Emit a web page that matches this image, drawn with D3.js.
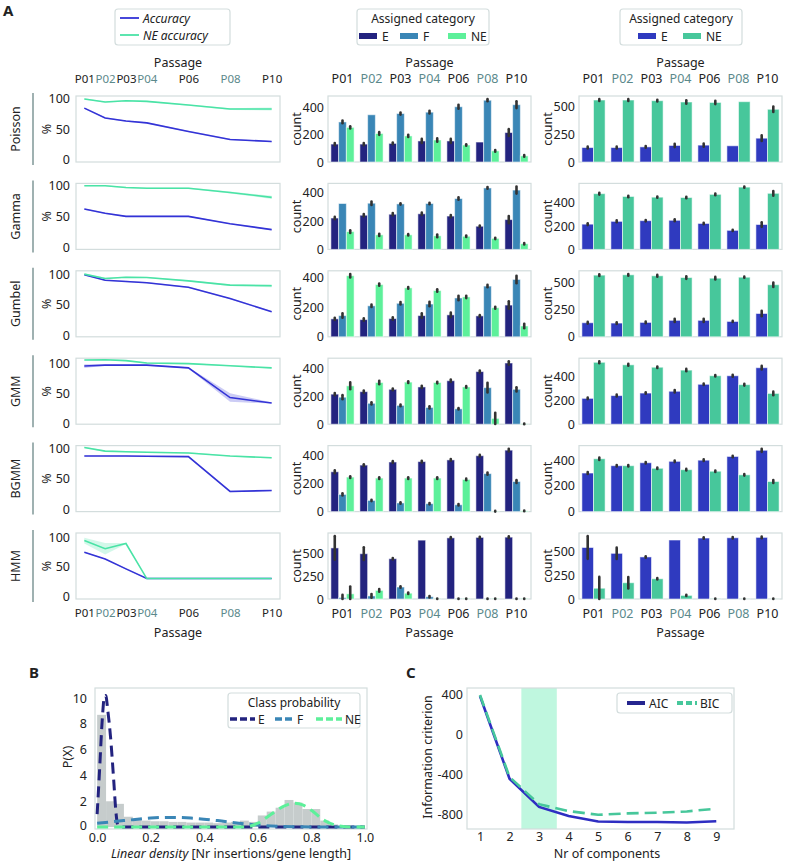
<!DOCTYPE html>
<html><head><meta charset="utf-8">
<script src="https://cdn.jsdelivr.net/npm/d3@7"></script>
<style>body{margin:0;background:#fff} svg text{font-family:"Noto Sans",sans-serif;fill:#222}</style>
</head><body><svg id="c" width="786" height="865"></svg>
<script>
// ---------------- DATA ----------------
const models = ["Poisson","Gamma","Gumbel","GMM","BGMM","HMM"];
const passages = ["P01","P02","P03","P04","P06","P08","P10"];
const passageNum = [1,2,3,4,6,8,10];
const altPassages = ["P02","P04","P08"];

const accuracy = [
 [84,68,63,60,46,33,29.5],
 [62,55,50,50,50,38,28.5],
 [99,90,88,86,78.5,60,38.5],
 [95,96.5,96.5,96.5,92,43,34],
 [87,87,87,86.5,86,29,30.5],
 [75,63.5,46.6,30,30,30,30]];
const accuracyErr = [
 [1,1,1,1,1,1,1],
 [1,1,1,1,1,1,1],
 [1,1,1,1,1,1,1],
 [3,1,1,1,1,7,1],
 [1,1,1,1,1,1.5,1],
 [1,1,1,0.5,0.5,0.5,0.5]];
const neAccuracy = [
 [99,94,96,95,89,82.5,82.5],
 [100,100,97,96,96,89,81],
 [100,93,95,94.5,89,82,81],
 [105,105.5,104,100,99,95.5,92],
 [101,95,94,93,92,87,84],
 [95,81,90,30,30,30,30]];
const neAccuracyErr = [
 [1,1,1,1,1,1.5,2.5],
 [1,1,1,1,1,1.5,2.5],
 [1,1,1,1,1,1.5,2.5],
 [1,1,1,1,1,1,1],
 [1,1,1,1,1,1,1],
 [5,10,1,0.5,0.5,0.5,0.5]];
const leftDomains = [[-3.8,103.8],[-3.8,103.8],[-2.7,105.5],[-1,108],[-4,104],[-5,108]];

const midE = [
 [132,132,137,155,155,147,217],
 [222,242,249,252,236,164,211],
 [121,116,123,143,148,141,214],
 [217,235,252,269,314,380,442],
 [285,333,355,358,370,400,440],
 [564,500,445,650,675,680,683]];
const midF = [
 [295,348,357,367,407,455,422],
 [325,327,322,325,360,435,420],
 [143,209,226,221,262,342,387],
 [195,151,136,121,111,264,252],
 [123,80,62,57,49,272,215],
 [15,34,132,25,3,2,2]];
const midNE = [
 [255,210,192,162,125,82,45],
 [126,103,103,96,93,78,40],
 [412,352,330,312,269,196,73],
 [277,301,304,301,269,42,2],
 [247,240,240,240,230,2,5],
 [57,95,64,3,3,3,3]];
const midEErr = [
 [8,8,6,15,15,0,25],
 [8,8,8,8,8,5,25],
 [8,8,8,15,15,5,25],
 [8,8,6,8,8,8,12],
 [10,6,6,6,6,6,10],
 [130,70,8,0,8,8,8]];
const midFErr = [
 [10,0,8,10,15,8,25],
 [0,12,5,5,8,6,25],
 [15,8,8,15,15,8,25],
 [15,8,6,8,5,35,15],
 [8,5,5,5,5,8,10],
 [30,20,8,8,3,3,3]];
const midNEErr = [
 [8,10,8,12,5,6,6],
 [10,8,5,10,5,5,5],
 [12,8,6,8,8,6,15],
 [25,12,6,6,6,40,3],
 [6,6,6,6,6,3,3],
 [80,15,8,3,3,3,3]];
const midTicks = [[0,200,400],[0,200,400],[0,200,400],[0,200,400],[0,200,400],[0,250,500]];

const rightE = [
 [131,131,137,150,153,147,216],
 [216,240,246,249,222,163,213],
 [129,126,132,151,151,141,214],
 [215,238,259,274,332,403,470],
 [300,357,380,391,400,429,477],
 [545,483,445,624,645,648,652]];
const rightNE = [
 [562,562,556,544,540,547,478],
 [477,453,447,444,471,533,480],
 [566,569,560,544,538,547,478],
 [515,494,474,450,403,329,256],
 [411,357,337,326,314,286,234],
 [114,172,214,38,2,1,1]];
const rightEErr = [
 [8,8,8,15,15,0,25],
 [8,8,6,8,6,5,20],
 [8,8,8,15,15,5,25],
 [6,8,6,10,6,8,15],
 [8,6,6,6,6,6,12],
 [120,60,8,0,8,8,8]];
const rightNEErr = [
 [8,8,8,15,15,0,25],
 [8,6,5,6,8,5,20],
 [8,8,8,12,12,5,20],
 [8,8,6,10,6,8,15],
 [10,6,6,6,6,6,12],
 [120,60,8,6,3,3,3]];
const rightTicks = [[0,250,500],[0,200,400],[0,250,500],[0,200,400],[0,200,400],[0,250,500]];

// Panel B
const histBinWidth = 1/30;
const histHeights = [8.7,2.0,1.8,0.8,0.55,0.5,0.45,0.45,0.4,0.4,0.35,0.35,0.35,0.3,0.35,0.4,0.5,0.4,0.9,1.2,1.5,2.1,1.9,1.4,1.4,0.5,0.2,0,0,0];
const curveE = [[0,1.0],[0.009,4.4],[0.019,8.3],[0.027,10.1],[0.032,10.2],[0.04,9.0],[0.05,7.0],[0.062,3.6],[0.07,1.2],[0.078,0.1],[0.1,0],[1.0,0]];
const curveF = [[0,0.3],[0.1,0.5],[0.2,0.7],[0.27,0.75],[0.35,0.7],[0.45,0.5],[0.55,0.25],[0.65,0.08],[0.75,0.02],[0.85,0],[1.0,0]];
const curveNE = [[0,0],[0.55,0],[0.6,0.3],[0.65,1.0],[0.7,1.65],[0.735,1.85],[0.77,1.7],[0.8,1.3],[0.85,0.5],[0.9,0.1],[0.95,0],[1.0,0]];
const classes = ["E","F","NE"];
const xTicksB = [0,0.2,0.4,0.6,0.8,1.0];
const yTicksB = [0,2,4,6,8,10];

// Panel C
const components = [1,2,3,4,5,6,7,8,9];
const aic = [390,-444,-728,-820,-875,-879,-879,-885,-872];
const bic = [400,-427,-700,-770,-807,-793,-786,-773,-745];
const yTicksC = [400,0,-400,-800];

// ---------------- STYLE ----------------
const svg = d3.select("#c");
const FS = 12.5;
const DARK = "#222";
const ALT = "#5b898b";
const FRAME = "#d3dddd";
const cAcc = "#3333d6", cNE = "#4ae3a6";
const cE = "#23237f", cF = "#3a86b6", cNEb = "#5df09a";
const cE2 = "#2f3abf", cNE2 = "#47c79b";
const RH = 66;
const rowTop = i => 96 + i*87.4;
const COLL = [76,280], COLM = [328,531], COLR = [579,782];

function cleanAxis(g, pass, size){
  g.select(".domain").remove();
  g.selectAll("text").attr("font-size",size||FS).style("fill", d => pass && altPassages.includes(pass(d)) ? ALT : DARK);
}
function rotLabel(x, y, txt, size){
  svg.append("text").attr("transform",`translate(${x},${y}) rotate(-90)`)
    .attr("text-anchor","middle").attr("dominant-baseline","central")
    .attr("font-size",size||FS).text(txt);
}
function frame(x0,y0,x1,y1){
  svg.append("rect").attr("x",x0).attr("y",y0).attr("width",x1-x0).attr("height",y1-y0)
    .attr("fill","none").attr("stroke",FRAME).attr("stroke-width",1.2);
}

// Panel letters
svg.append("text").attr("x",3).attr("y",16).attr("font-size",15).attr("font-weight","bold").text("A");
svg.append("text").attr("x",29).attr("y",678).attr("font-size",15).attr("font-weight","bold").text("B");
svg.append("text").attr("x",406).attr("y",678).attr("font-size",15).attr("font-weight","bold").text("C");

// ---------------- LEFT COLUMN ----------------
const xL = d3.scaleLinear().domain([0.6,10.4]).range(COLL);
models.forEach((m,i) => {
  const top = rowTop(i), bot = top+RH;
  const y = d3.scaleLinear().domain(leftDomains[i]).range([bot,top]);
  frame(COLL[0],top,COLL[1],bot);
  const series = [
    {v:accuracy[i], e:accuracyErr[i], c:cAcc},
    {v:neAccuracy[i], e:neAccuracyErr[i], c:cNE}];
  series.forEach(s => {
    const pts = passageNum.map((p,j)=>({p, v:s.v[j], e:s.e[j]}));
    svg.append("path").datum(pts).attr("fill",s.c).attr("fill-opacity",0.25)
      .attr("d", d3.area().x(d=>xL(d.p)).y0(d=>y(d.v-d.e)).y1(d=>y(d.v+d.e)));
  });
  series.forEach(s => {
    const pts = passageNum.map((p,j)=>({p, v:s.v[j]}));
    svg.append("path").datum(pts).attr("fill","none").attr("stroke",s.c).attr("stroke-width",1.6)
      .attr("d", d3.line().x(d=>xL(d.p)).y(d=>y(d.v)));
  });
  const ay = svg.append("g").attr("transform",`translate(${COLL[0]},0)`)
    .call(d3.axisLeft(y).tickValues([0,50,100]).tickSize(0).tickPadding(6));
  cleanAxis(ay);
  rotLabel(46,(top+bot)/2,"%");
  rotLabel(15,(top+bot)/2,m);
  svg.append("line").attr("x1",33).attr("x2",33).attr("y1",top-3).attr("y2",bot+3)
    .attr("stroke","#9fb1b1").attr("stroke-width",2);
  const fmtL = d => passages[passageNum.indexOf(d)];
  if(i===0){
    const ax = svg.append("g").attr("transform",`translate(0,${top})`)
      .call(d3.axisTop(xL).tickValues(passageNum).tickFormat(fmtL).tickSize(0).tickPadding(13));
    cleanAxis(ax, fmtL, 11.5);
    svg.append("text").attr("x",(COLL[0]+COLL[1])/2).attr("y",67).attr("text-anchor","middle").attr("font-size",FS).text("Passage");
  }
  if(i===models.length-1){
    const ax = svg.append("g").attr("transform",`translate(0,${bot})`)
      .call(d3.axisBottom(xL).tickValues(passageNum).tickFormat(fmtL).tickSize(0).tickPadding(10));
    cleanAxis(ax, fmtL, 11.5);
    svg.append("text").attr("x",(COLL[0]+COLL[1])/2).attr("y",637).attr("text-anchor","middle").attr("font-size",FS).text("Passage");
  }
});

// ---------------- BAR COLUMNS ----------------
function barPanel(i, range, names, vals, errs, colors, ticks, labelX){
  const top = rowTop(i), bot = top+RH;
  const x = d3.scaleBand().domain(passages).range(range).paddingInner(0.2).paddingOuter(0.1);
  const xs = d3.scaleBand().domain(names).range([0,x.bandwidth()]);
  const maxV = d3.max(names.flatMap((s,k)=>vals[k].map((v,j)=>v+errs[k][j])));
  const y = d3.scaleLinear().domain([0,maxV*1.05]).range([bot,top]);
  frame(range[0],top,range[1],bot);
  names.forEach((s,k) => {
    const data = passages.map((p,j)=>({p, v:vals[k][j], e:errs[k][j]}));
    svg.append("g").selectAll("rect").data(data).join("rect")
      .attr("x",d=>x(d.p)+xs(s)).attr("width",xs.bandwidth())
      .attr("y",d=>y(d.v)).attr("height",d=>y(0)-y(d.v))
      .attr("fill",colors[k]).attr("stroke","#ffffff").attr("stroke-opacity",0.55).attr("stroke-width",1);
    svg.append("g").selectAll("line").data(data.filter(d=>d.e>0)).join("line")
      .attr("x1",d=>x(d.p)+xs(s)+xs.bandwidth()/2).attr("x2",d=>x(d.p)+xs(s)+xs.bandwidth()/2)
      .attr("y1",d=>y(Math.max(0,d.v-d.e))).attr("y2",d=>y(d.v+d.e))
      .attr("stroke","#333").attr("stroke-width",2.6).attr("stroke-linecap","round");
  });
  const ay = svg.append("g").attr("transform",`translate(${range[0]},0)`)
    .call(d3.axisLeft(y).tickValues(ticks).tickSize(0).tickPadding(4));
  cleanAxis(ay);
  rotLabel(labelX,(top+bot)/2,"count");
  const idf = d=>d;
  if(i===0){
    const ax = svg.append("g").attr("transform",`translate(0,${top})`)
      .call(d3.axisTop(x).tickSize(0).tickPadding(13));
    cleanAxis(ax, idf);
    svg.append("text").attr("x",(range[0]+range[1])/2).attr("y",67).attr("text-anchor","middle").attr("font-size",FS).text("Passage");
  }
  if(i===models.length-1){
    const ax = svg.append("g").attr("transform",`translate(0,${bot})`)
      .call(d3.axisBottom(x).tickSize(0).tickPadding(10));
    cleanAxis(ax, idf);
    svg.append("text").attr("x",(range[0]+range[1])/2).attr("y",637).attr("text-anchor","middle").attr("font-size",FS).text("Passage");
  }
}
models.forEach((m,i) => {
  barPanel(i, COLM, ["E","F","NE"], [midE[i],midF[i],midNE[i]], [midEErr[i],midFErr[i],midNEErr[i]], [cE,cF,cNEb], midTicks[i], 296);
  barPanel(i, COLR, ["E","NE"], [rightE[i],rightNE[i]], [rightEErr[i],rightNEErr[i]], [cE2,cNE2], rightTicks[i], 547);
});

// ---------------- LEGENDS (top) ----------------
const LFS = 12;
function legBox(x0,y0,x1,y1){
  svg.append("rect").attr("x",x0).attr("y",y0).attr("width",x1-x0).attr("height",y1-y0)
    .attr("rx",3).attr("fill","#fff").attr("stroke",FRAME).attr("stroke-width",1.2);
}
legBox(115,9,230,45);
[["Accuracy",cAcc,18],["NE accuracy",cNE,35]].forEach(([t,c,yy])=>{
  svg.append("line").attr("x1",120).attr("x2",139).attr("y1",yy).attr("y2",yy).attr("stroke",c).attr("stroke-width",1.8);
  svg.append("text").attr("x",143).attr("y",yy).attr("dominant-baseline","central").attr("font-size",LFS).attr("font-style","italic").text(t);
});
legBox(357,9,489,45);
svg.append("text").attr("x",423).attr("y",18.5).attr("text-anchor","middle").attr("dominant-baseline","central").attr("font-size",LFS).text("Assigned category");
[["E",cE,359],["F",cF,400],["NE",cNEb,448]].forEach(([t,c,xx])=>{
  svg.append("rect").attr("x",xx).attr("y",33).attr("width",18).attr("height",6).attr("fill",c);
  svg.append("text").attr("x",xx+23).attr("y",36).attr("dominant-baseline","central").attr("font-size",LFS).text(t);
});
legBox(620,9,742,45);
svg.append("text").attr("x",681).attr("y",18.5).attr("text-anchor","middle").attr("dominant-baseline","central").attr("font-size",LFS).text("Assigned category");
[["E",cE2,638],["NE",cNE2,683]].forEach(([t,c,xx])=>{
  svg.append("rect").attr("x",xx).attr("y",33).attr("width",18).attr("height",6).attr("fill",c);
  svg.append("text").attr("x",xx+23).attr("y",36).attr("dominant-baseline","central").attr("font-size",LFS).text(t);
});

// ---------------- PANEL B ----------------
{
  const xB = d3.scaleLinear().domain([-0.008,1.008]).range([95,367]);
  const yB = d3.scaleLinear().domain([-0.15,10.78]).range([829,688]);
  frame(95,688,367,829);
  svg.append("g").selectAll("rect").data(histHeights).join("rect")
    .attr("x",(d,k)=>xB(k*histBinWidth)).attr("width",(d,k)=>xB((k+1)*histBinWidth)-xB(k*histBinWidth))
    .attr("y",d=>yB(d)).attr("height",d=>yB(0)-yB(d)).attr("fill","#c6cccc");
  const ln = d3.line().x(d=>xB(d[0])).y(d=>yB(d[1])).curve(d3.curveMonotoneX);
  [[curveE,cE],[curveF,cF],[curveNE,cNEb]].forEach(([pts,c])=>{
    svg.append("path").datum(pts).attr("d",ln).attr("fill","none").attr("stroke",c)
      .attr("stroke-width",3).attr("stroke-dasharray","11,6");
  });
  const ax = svg.append("g").attr("transform","translate(0,829)")
    .call(d3.axisBottom(xB).tickValues(xTicksB).tickFormat(d3.format(".1f")).tickSize(0).tickPadding(4));
  cleanAxis(ax);
  const ay = svg.append("g").attr("transform","translate(95,0)")
    .call(d3.axisLeft(yB).tickValues(yTicksB).tickSize(0).tickPadding(8));
  cleanAxis(ay);
  ay.selectAll(".tick").filter(d=>d===0).select("text").attr("dy","0.2em");
  rotLabel(67,757,"P(X)");
  const t = svg.append("text").attr("x",231).attr("y",858).attr("text-anchor","middle").attr("font-size",FS);
  t.append("tspan").attr("font-style","italic").text("Linear density");
  t.append("tspan").text(" [Nr insertions/gene length]");
  legBox(228,693,360,728);
  svg.append("text").attr("x",294).attr("y",702).attr("text-anchor","middle").attr("dominant-baseline","central").attr("font-size",LFS).text("Class probability");
  [["E",cE,230,25],["F",cF,275,19],["NE",cNEb,316,26]].forEach(([tx,c,xx,w])=>{
    svg.append("line").attr("x1",xx).attr("x2",xx+w).attr("y1",719).attr("y2",719).attr("stroke",c)
      .attr("stroke-width",3.5).attr("stroke-dasharray","7,3");
    svg.append("text").attr("x",xx+w+3).attr("y",719).attr("dominant-baseline","central").attr("font-size",LFS).text(tx);
  });
}

// ---------------- PANEL C ----------------
{
  const xC = d3.scaleLinear().domain([0.56,9.6]).range([467,734]);
  const yC = d3.scaleLinear().domain([-950,470]).range([829,688]);
  svg.append("rect").attr("x",xC(2.4)).attr("y",688).attr("width",xC(3.6)-xC(2.4)).attr("height",141).attr("fill","#bff7df");
  frame(467,688,734,829);
  const ln = d3.line().x((d,k)=>xC(components[k])).y(d=>yC(d));
  svg.append("path").datum(aic).attr("d",ln).attr("fill","none").attr("stroke","#2e2ec2").attr("stroke-width",2.6);
  svg.append("path").datum(bic).attr("d",ln).attr("fill","none").attr("stroke",cNE2).attr("stroke-width",2.6).attr("stroke-dasharray","12,6");
  const ax = svg.append("g").attr("transform","translate(0,829)")
    .call(d3.axisBottom(xC).tickValues(components).tickSize(0).tickPadding(3));
  cleanAxis(ax);
  const ay = svg.append("g").attr("transform","translate(467,0)")
    .call(d3.axisLeft(yC).tickValues(yTicksC).tickFormat(d=>String(d)).tickSize(0).tickPadding(4));
  cleanAxis(ay);
  rotLabel(427,757,"Information criterion");
  svg.append("text").attr("x",607).attr("y",858).attr("text-anchor","middle").attr("font-size",FS).text("Nr of components");
  legBox(617,693,732,713);
  svg.append("line").attr("x1",627).attr("x2",645).attr("y1",703).attr("y2",703).attr("stroke","#25258f").attr("stroke-width",4);
  svg.append("text").attr("x",649).attr("y",703).attr("dominant-baseline","central").attr("font-size",LFS).text("AIC");
  svg.append("line").attr("x1",677).attr("x2",697).attr("y1",703).attr("y2",703).attr("stroke",cNE2).attr("stroke-width",4).attr("stroke-dasharray","6,3");
  svg.append("text").attr("x",700).attr("y",703).attr("dominant-baseline","central").attr("font-size",LFS).text("BIC");
}
</script></body></html>
